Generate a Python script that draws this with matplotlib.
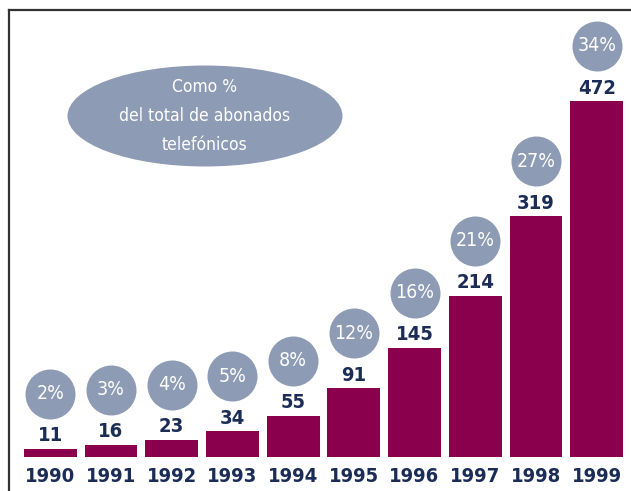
import matplotlib
matplotlib.use("Agg")
import matplotlib.pyplot as plt
from matplotlib.patches import Ellipse
from matplotlib.lines import Line2D

years = ["1990", "1991", "1992", "1993", "1994", "1995", "1996", "1997", "1998", "1999"]
subscribers = [11, 16, 23, 34, 55, 91, 145, 214, 319, 472]
percent_labels = ["2%", "3%", "4%", "5%", "8%", "12%", "16%", "21%", "27%", "34%"]

BAR = "#8A004C"
NAVY = "#1B2D57"
CIRC = "#8D9BB5"
FONT = ["DejaVu Sans"]
STRETCH = "condensed"

W, H = 631, 491
fig = plt.figure(figsize=(W / 100, H / 100), dpi=100)
fig.patch.set_facecolor("white")

# frame lines (left and top)
fig.add_artist(Line2D([9 / W, 9 / W], [0, 1 - 10 / H], transform=fig.transFigure, color="#333333", lw=1.6))
fig.add_artist(Line2D([9 / W, 1], [1 - 10 / H, 1 - 10 / H], transform=fig.transFigure, color="#333333", lw=1.6))

px_per_unit = 356 / 472
bottom_px = H - 457
ax_h_px = 600 * px_per_unit
ax = fig.add_axes([20 / W, bottom_px / H, 607 / W, ax_h_px / H])
ax.set_xlim(-0.5, 9.5)
ax.set_ylim(0, 600)
ax.axis("off")

x = list(range(len(years)))
ax.bar(x, subscribers, width=0.87, color=BAR, zorder=2)

off_label = 13 / px_per_unit
off_circ = 55 / px_per_unit
for i, (v, p, yr) in enumerate(zip(subscribers, percent_labels, years)):
    ax.text(i, v + off_label, str(v), ha="center", va="center", color=NAVY,
            fontsize=14.5, fontweight="bold", family=FONT, fontstretch=STRETCH)
    ax.scatter([i], [v + off_circ], s=(50 * 0.72) ** 2, color=CIRC, zorder=3, linewidths=0)
    ax.text(i, v + off_circ, p, ha="center", va="center", color="white",
            fontsize=14, family=FONT, fontstretch=STRETCH, zorder=4)
    ax.text(i, -20 / px_per_unit, yr, ha="center", va="center", color=NAVY,
            fontsize=14.5, fontweight="bold", family=FONT, fontstretch=STRETCH, clip_on=False)

# ellipse note
ell = Ellipse((205 / W, 1 - 116 / H), 275 / W, 101 / H, transform=fig.transFigure,
              facecolor=CIRC, edgecolor="none")
fig.add_artist(ell)
fig.text(205 / W, 1 - 116 / H, "Como %\ndel total de abonados\ntelefónicos", ha="center", va="center",
         color="white", fontsize=12.5, family=FONT, fontstretch=STRETCH, linespacing=1.8)

fig.savefig("out.png", dpi=100)
